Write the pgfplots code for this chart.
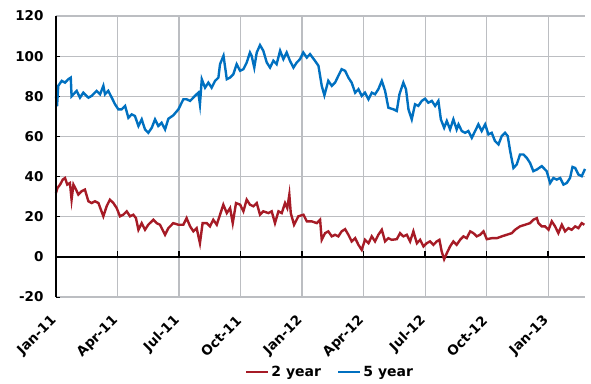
\documentclass[border=0pt]{standalone}
\usepackage{pgfplots}
\pgfplotsset{compat=1.18}
\usepackage{fontspec}
\setmainfont{DejaVu Sans}

\definecolor{redline}{RGB}{166,27,38}
\definecolor{blueline}{RGB}{0,112,192}
\definecolor{gridgray}{RGB}{188,190,194}

\begin{document}
\begin{tikzpicture}
\begin{axis}[
    scale only axis,
    width=529pt, height=281pt,
    xmin=0, xmax=25.8,
    ymin=-20, ymax=120,
    ytick={-20,0,20,40,60,80,100,120},
    yticklabels={-20,0,20,40,60,80,100,120},
    xtick={0,3,6,9,12,15,18,21,24},
    xticklabels={Jan-11,Apr-11,Jul-11,Oct-11,Jan-12,Apr-12,Jul-12,Oct-12,Jan-13},
    grid=major,
    major grid style={draw=gridgray, line width=1.1pt},
    axis line style={draw=none},
    tick pos=left,
    tick align=inside,
    major tick length=4pt,
    xtick style={draw=gridgray, line width=1.1pt},
    ytick style={draw=black, line width=1pt},
    ticklabel style={font=\bfseries\fontsize{13.5}{14}\selectfont},
    yticklabel style={xshift=-9pt},
    xticklabel style={rotate=45, anchor=east, xshift=-13pt, yshift=-14pt},
    legend style={at={(0.518,-0.267)}, anchor=center, draw=none,
        font=\bfseries\fontsize{14}{14}\selectfont,
        /tikz/every even column/.append style={column sep=14pt}},
    legend columns=2,
    legend image code/.code={\draw[#1] (0pt,0pt) -- (22pt,0pt);},
    clip=false,
]
\draw[draw=gridgray, line width=1.6pt] (axis cs:0,120) -- (axis cs:25.8,120);
\draw[black, line width=2.6pt] (axis cs:0,0) -- (axis cs:25.8,0);
\pgfplotsinvokeforeach{3,6,9,12,15,18,21,24}{\draw[black, line width=1.4pt] (axis cs:#1,0) -- ++(0pt,6pt);}

\addplot[redline, line width=2.4pt] coordinates {
(0,31.8) (0.07,34.3) (0.2,36) (0.33,38.5) (0.44,39.3) (0.55,36) (0.68,36.8) (0.76,28.5) (0.85,36) (0.98,33.5) (1.09,31) (1.25,32.7) (1.41,33.5) (1.58,27.7) (1.74,26.8) (1.90,27.7) (2.07,26.8) (2.31,20.2) (2.47,25.2) (2.63,28.5) (2.80,26.8) (2.96,24.3) (3.12,20.2) (3.28,21) (3.45,22.7) (3.61,20.2) (3.77,21) (3.90,19.3) (4.02,13.5) (4.18,16.8) (4.34,13.5) (4.50,16) (4.75,18.5) (4.91,16.8) (5.07,16) (5.32,11) (5.48,14.3) (5.72,16.8) (5.97,16) (6.21,16) (6.37,19.3) (6.54,15.2) (6.70,12.7) (6.86,14.3) (7.02,6.8) (7.15,16.8) (7.35,16.8) (7.51,15.2) (7.67,18.5) (7.84,16) (8.0,21) (8.16,26) (8.33,21.8) (8.49,24.3) (8.62,16.8) (8.78,26.8) (8.98,26) (9.14,22.7) (9.30,28.5) (9.46,26) (9.63,25.2) (9.79,26.8) (9.95,21) (10.11,22.7) (10.36,21.8) (10.52,22.7) (10.68,16.8) (10.85,22.7) (11.01,21.8) (11.17,26.8) (11.28,24.3) (11.38,31) (11.45,21.8) (11.61,16) (11.82,20.2) (12.07,21) (12.23,17.7) (12.47,17.7) (12.72,16.8) (12.88,18.5) (12.96,8.5) (13.12,11.8) (13.28,12.7) (13.45,10.2) (13.61,11) (13.77,10.2) (13.93,12.7) (14.10,13.8) (14.26,11) (14.42,7.7) (14.59,9.3) (14.75,6) (14.91,3.5) (15.07,8.5) (15.24,6.8) (15.40,10.2) (15.56,7.7) (15.72,11) (15.89,13.5) (16.05,7.7) (16.21,9.3) (16.37,8.5) (16.62,8.8) (16.78,11.8) (16.94,10.2) (17.11,11) (17.27,7.7) (17.43,12.7) (17.60,6.8) (17.76,8.5) (17.92,5.2) (18.08,6.8) (18.24,7.7) (18.41,6) (18.57,7.7) (18.70,8.5) (18.81,2.7) (18.93,-1.2) (19.06,1.8) (19.22,5.2) (19.38,7.7) (19.54,6) (19.71,8.5) (19.87,10.2) (20.03,9.3) (20.20,12.7) (20.36,11.8) (20.52,10.2) (20.68,11) (20.85,12.7) (21.01,8.8) (21.25,9.3) (21.50,9.3) (21.74,10.2) (21.98,11) (22.23,11.8) (22.39,13.5) (22.63,15.2) (22.88,16) (23.12,16.8) (23.28,18.5) (23.45,19.3) (23.53,16.8) (23.69,15.2) (23.85,15.2) (24.02,13.5) (24.18,17.7) (24.34,15.2) (24.50,11.8) (24.67,16) (24.83,12.7) (24.99,14.3) (25.15,13.5) (25.32,15.2) (25.48,14.3) (25.64,16.8) (25.77,16)
};
\addlegendentry{2 year}

\addplot[blueline, line width=2.4pt] coordinates {
(0,80) (0.05,75) (0.11,85.2) (0.28,87.7) (0.44,86.8) (0.6,88.5) (0.72,89.3) (0.76,80) (1.01,82.7) (1.17,79.3) (1.33,81.8) (1.58,79.3) (1.74,80.2) (1.98,82.7) (2.15,81) (2.31,85.2) (2.39,81) (2.55,82.7) (2.72,79.3) (2.88,76) (3.04,73.5) (3.2,73.5) (3.37,75.2) (3.53,69.3) (3.69,71) (3.85,70.2) (4.02,65.2) (4.18,68.5) (4.34,63.5) (4.5,61.8) (4.67,64.3) (4.83,68.5) (4.99,65.2) (5.15,66.8) (5.32,63.5) (5.48,68.8) (5.72,70.5) (5.97,73.5) (6.21,78.5) (6.37,78.5) (6.54,77.7) (6.78,80.2) (6.94,81.8) (7.02,76) (7.11,88.5) (7.27,84.3) (7.43,86.8) (7.59,84.3) (7.76,87.7) (7.92,89.3) (8.0,96) (8.17,100.2) (8.33,88.5) (8.49,89.3) (8.65,91) (8.81,96) (8.98,92.7) (9.14,93.5) (9.30,96.8) (9.46,101.8) (9.54,100.2) (9.67,94.3) (9.79,101.8) (9.95,105.5) (10.11,102.7) (10.28,96.8) (10.44,94.3) (10.60,97.7) (10.76,96) (10.93,102.7) (11.09,98.5) (11.25,101.8) (11.41,97.7) (11.58,94.3) (11.74,96.8) (11.90,98.5) (12.06,101.8) (12.23,99.3) (12.39,101) (12.63,97.7) (12.80,95.2) (12.96,85.2) (13.09,80.5) (13.28,87.7) (13.45,85.2) (13.61,86.8) (13.77,90.2) (13.93,93.5) (14.10,92.7) (14.26,89.3) (14.42,86.8) (14.59,81.8) (14.75,83.5) (14.91,80.2) (15.07,81.8) (15.24,78.5) (15.40,81.8) (15.56,81) (15.72,83.5) (15.89,87.7) (16.05,82.7) (16.21,74.3) (16.46,73.5) (16.62,72.7) (16.75,81) (16.94,86.8) (17.07,83.5) (17.19,73.5) (17.35,68.5) (17.51,76) (17.67,75.2) (17.84,77.7) (18.0,78.8) (18.16,76.8) (18.33,77.7) (18.49,75.2) (18.65,77.7) (18.77,68.5) (18.93,64.3) (19.06,67.7) (19.22,63.5) (19.38,68.5) (19.54,63.5) (19.63,66) (19.79,62.7) (19.95,61.8) (20.11,62.7) (20.28,59.3) (20.44,62.7) (20.60,66) (20.76,62.7) (20.93,66) (21.09,61) (21.25,61.8) (21.41,57.7) (21.58,56) (21.74,60.2) (21.90,61.8) (22.03,60.2) (22.15,52.7) (22.31,44.3) (22.47,46) (22.63,51) (22.80,51) (22.96,49.3) (23.12,46.8) (23.28,42.7) (23.45,43.5) (23.69,45.2) (23.93,42.7) (24.10,36.8) (24.26,39.3) (24.42,38.5) (24.59,39.3) (24.75,36) (24.91,36.8) (25.07,39.3) (25.19,44.8) (25.32,44.3) (25.48,41) (25.64,40.2) (25.80,43.8)
};
\addlegendentry{5 year}

\draw[black, line width=2.6pt] (axis cs:0,-20) -- (axis cs:0,120);
\coordinate (sw) at (rel axis cs:0,0);
\coordinate (ne) at (rel axis cs:1,1);
\end{axis}
\path ([shift={(-56pt,-86pt)}]sw) rectangle ([shift={(6pt,16pt)}]ne);
\end{tikzpicture}
\end{document}
